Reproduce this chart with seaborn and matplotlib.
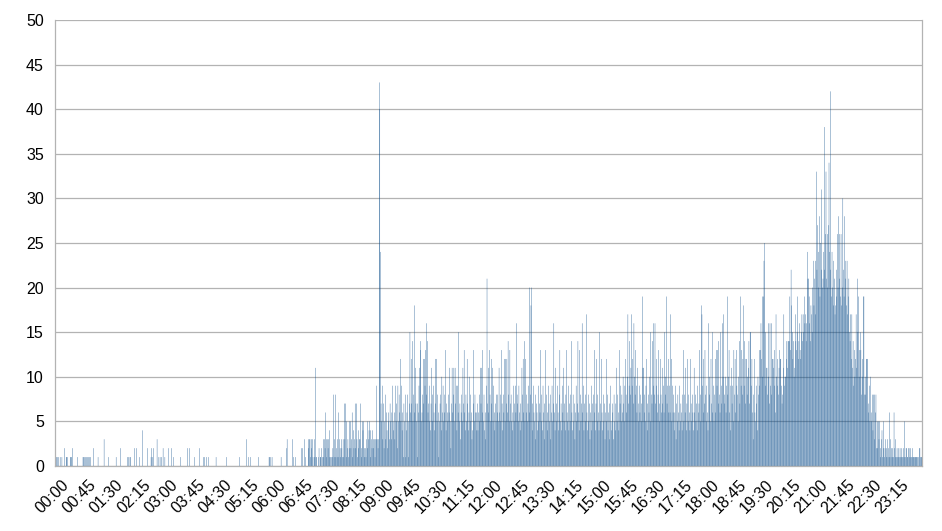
import numpy as np
import pandas as pd
import matplotlib
matplotlib.use("Agg")
import matplotlib.pyplot as plt
import matplotlib.transforms as mtransforms
import seaborn as sns

# requests per minute, one list per hour of the day
h00 = [1,1,1,0,1,1,0,0,1,0, 0,1,0,0,0,2,0,0,1,1, 1,0,0,0,0,1,1,1,2,0, 0,0,0,0,0,0,0,1,0,0, 0,0,0,0,0,0,1,1,0,1, 1,0,1,1,0,1,0,1,1,0]
h01 = [0,0,0,2,0,0,0,0,0,0, 0,1,0,0,0,0,0,0,0,0, 0,3,0,0,0,0,0,0,1,0, 0,0,0,0,0,0,0,0,0,0, 0,1,0,0,0,0,0,0,2,0, 0,0,0,0,0,0,0,0,0,0]
h02 = [1,0,1,0,1,1,0,0,0,0, 0,2,0,0,0,2,0,0,0,0, 1,0,0,0,0,4,0,0,0,0, 0,0,0,2,0,0,0,0,0,1, 2,0,1,2,0,0,0,0,0,3, 0,0,1,0,1,0,1,0,0,2]
h03 = [0,0,1,0,0,0,0,0,2,0, 0,0,0,2,0,0,1,0,0,0, 0,0,0,0,0,0,0,0,1,0, 0,0,0,0,0,0,0,0,0,2, 0,0,0,2,0,0,0,0,0,0, 0,1,0,0,0,0,0,0,0,2]
h04 = [0,0,0,0,0,0,1,0,1,0, 0,1,0,0,1,0,0,0,0,0, 0,0,0,0,0,0,0,1,0,0, 0,0,0,0,0,0,0,0,0,0, 0,0,0,0,1,0,0,0,0,0, 0,0,0,0,0,0,0,0,0,0]
h05 = [0,0,0,0,0,0,1,0,0,0, 0,0,0,0,0,0,0,3,0,0, 0,1,0,0,1,0,0,0,0,0, 0,0,0,0,0,0,0,1,0,0, 0,0,0,0,0,0,0,0,0,0, 0,0,0,0,0,1,1,0,1,0]
h06 = [1,0,0,0,0,0,0,0,0,0, 0,0,0,0,0,1,0,0,0,0, 0,0,0,0,2,3,0,0,0,0, 0,0,0,0,3,0,1,0,0,1, 0,0,0,0,0,0,0,0,0,2, 0,2,0,0,3,0,1,0,0,0]
h07 = [3,2,3,3,1,3,2,3,1,0, 3,1,11,1,1,0,0,1,2,0, 1,1,2,0,1,3,1,3,2,6, 3,1,3,2,3,4,1,1,0,1, 1,2,8,1,3,8,1,2,1,3, 6,1,3,2,1,3,2,1,3,1]
h08 = [7,3,7,1,5,2,3,1,2,5, 5,2,3,6,1,4,2,3,7,2, 7,3,1,4,2,3,3,7,1,2, 5,4,5,2,1,2,1,3,5,2, 3,4,5,4,1,3,2,4,3,2, 3,1,3,3,9,3,2,3,43,40]
h09 = [24,7,5,9,3,7,2,5,8,3, 6,4,2,6,5,3,7,5,3,6, 9,5,4,6,3,9,5,7,2,9, 5,8,6,12,5,9,4,6,1,7, 5,1,8,4,6,8,5,1,7,15, 6,12,7,14,5,8,18,6,11,7]
h10 = [5,1,7,6,9,11,13,14,5,6, 8,12,7,12,9,13,16,8,14,6, 7,9,5,4,7,11,5,8,9,6, 4,12,7,12,5,8,6,1,5,7, 8,4,10,6,9,5,6,8,13,4, 7,6,5,8,6,11,5,2,7,11]
h11 = [6,8,11,5,11,7,9,4,9,6, 15,5,7,3,6,8,5,11,7,13, 6,4,8,5,12,7,4,6,10,5, 8,6,3,4,7,13,5,8,6,6, 4,7,4,6,8,5,11,7,11,6, 13,5,8,4,6,3,9,21,7,11]
h12 = [6,13,8,5,12,7,11,5,9,6, 4,7,5,8,6,8,5,11,6,8, 5,13,7,4,8,6,12,5,12,7, 12,6,14,8,5,13,7,8,5,4, 6,9,5,7,9,6,16,8,7,5, 9,6,4,7,5,11,8,12,6,14]
h13 = [5,12,6,8,5,7,9,6,20,8, 18,20,7,4,9,6,5,8,3,7, 6,4,9,5,7,6,13,5,8,4, 9,6,3,7,13,5,8,6,4,9, 7,5,8,3,6,9,5,7,16,6, 4,11,7,5,9,6,4,8,13,5]
h14 = [7,4,9,6,11,5,7,4,8,13, 6,5,9,4,7,5,8,14,6,4, 8,5,7,3,6,9,5,7,14,6, 4,13,8,5,7,16,6,9,4,7, 5,8,17,6,4,8,5,7,3,6, 9,4,7,5,8,13,6,4,7,12]
h15 = [5,8,6,4,15,7,5,12,6,4, 8,5,7,3,6,12,5,8,4,6, 7,3,9,5,4,7,6,3,8,5, 4,7,11,5,8,6,4,13,7,9, 5,8,6,10,7,5,9,12,8,6, 10,17,7,9,14,8,11,17,9,12]
h16 = [7,16,10,8,13,9,6,11,7,5, 9,6,8,5,7,19,11,11,6,8, 5,9,12,7,4,8,6,10,5,15, 8,7,14,9,16,8,16,7,12,9, 6,8,13,7,5,12,8,6,11,7, 9,6,15,8,10,19,7,9,12,6]
h17 = [9,6,17,12,5,9,6,8,4,6, 9,3,7,5,8,6,4,9,5,7, 6,4,8,13,5,8,6,11,4,7, 12,5,8,6,4,12,7,5,8,6, 4,11,6,8,5,7,4,9,6,7, 13,8,5,18,17,9,6,12,7,13]
h18 = [8,5,9,6,4,16,8,10,5,12, 7,15,6,9,5,8,12,6,13,9, 13,7,14,8,6,15,9,7,16,10, 17,8,7,10,6,9,19,8,10,13, 6,4,9,11,7,9,5,13,8,12, 6,13,9,8,5,10,14,7,19,9]
h19 = [13,8,12,18,9,14,7,12,12,8, 10,11,14,7,15,15,9,12,6,3, 8,12,6,5,9,7,4,10,8,13, 9,13,16,12,19,10,19,23,25,9, 15,11,11,8,16,10,7,16,9,16, 8,12,12,11,13,9,6,17,10,12]
h20 = [9,8,11,13,12,12,9,7,8,11, 17,9,10,10,12,14,11,14,14,14, 19,13,22,18,15,12,14,10,11,17, 14,13,15,19,12,14,16,13,12,15, 17,14,17,15,19,16,17,14,16,24, 21,21,19,16,14,18,17,15,20,23]
h21 = [18,21,17,23,33,22,27,20,24,28, 19,25,22,31,20,21,24,38,22,26, 33,21,26,20,27,34,24,42,22,19, 24,20,23,18,21,17,18,22,19,26, 20,28,21,26,19,26,18,20,30,22, 19,28,21,23,18,23,17,19,21,15]
h22 = [14,17,12,17,11,14,9,13,10,12, 17,11,21,15,19,10,13,15,13,8, 10,12,19,19,8,10,8,12,12,12, 7,6,9,5,10,6,5,8,4,8, 8,3,6,8,2,5,2,5,3,5, 2,1,3,4,1,2,5,1,2,3]
h23 = [1,2,3,1,2,1,6,3,1,2, 1,2,1,6,2,3,1,1,2,1, 1,2,1,2,1,1,2,1,1,2, 5,1,1,2,2,1,1,2,2,1, 2,1,1,1,2,1,1,1,1,1, 1,1,1,0,1,2,2,1,1,1]

hours = [h00, h01, h02, h03, h04, h05, h06, h07, h08, h09, h10, h11,
         h12, h13, h14, h15, h16, h17, h18, h19, h20, h21, h22, h23]
counts = [v for h in hours for v in h]
times = [f"{m // 60:02d}:{m % 60:02d}" for m in range(len(counts))]
df = pd.DataFrame({"time": times, "count": counts})

sns.set_theme(style="white")
plt.rcParams["font.family"] = ["Liberation Sans", "DejaVu Sans"]

fig = plt.figure(figsize=(9.42, 5.31), dpi=100)
ax = fig.add_axes([0.0584, 0.1224, 0.9204, 0.8399])

sns.barplot(data=df, x="time", y="count", color="#004586", saturation=1,
            width=0.55, linewidth=0, errorbar=None, snap=False, ax=ax, zorder=2)

grid = "#b3b3b3"
ax.set_ylim(0, 50)
ax.set_xlim(-0.5, len(counts) - 0.5)
ax.set_yticks(range(0, 51, 5))
ax.yaxis.grid(True, color=grid, linewidth=0.9, zorder=1)
ax.set_axisbelow(True)

ax.set_xticks(range(0, len(counts), 45))
ax.set_xticklabels(times[::45], rotation=45, ha="right", rotation_mode="anchor")
ax.set_xticks(np.arange(0, len(counts), 3), minor=True)
ax.tick_params(axis="x", which="both", length=6, width=0.8, color=grid,
               direction="out", labelsize=11.5, labelcolor="black", pad=2)
ax.tick_params(axis="y", length=5, width=0.8, color=grid, labelsize=11.5,
               labelcolor="black", pad=3)
ax.set_xlabel("")
ax.set_ylabel("")

shift = mtransforms.ScaledTranslation(6 / 100, 0, fig.dpi_scale_trans)
for lbl in ax.get_xticklabels():
    lbl.set_transform(lbl.get_transform() + shift)

for side in ["left", "right", "bottom"]:
    ax.spines[side].set_color(grid)
    ax.spines[side].set_linewidth(0.9)
ax.spines["top"].set_visible(False)

fig.savefig("out.png", dpi=100)
